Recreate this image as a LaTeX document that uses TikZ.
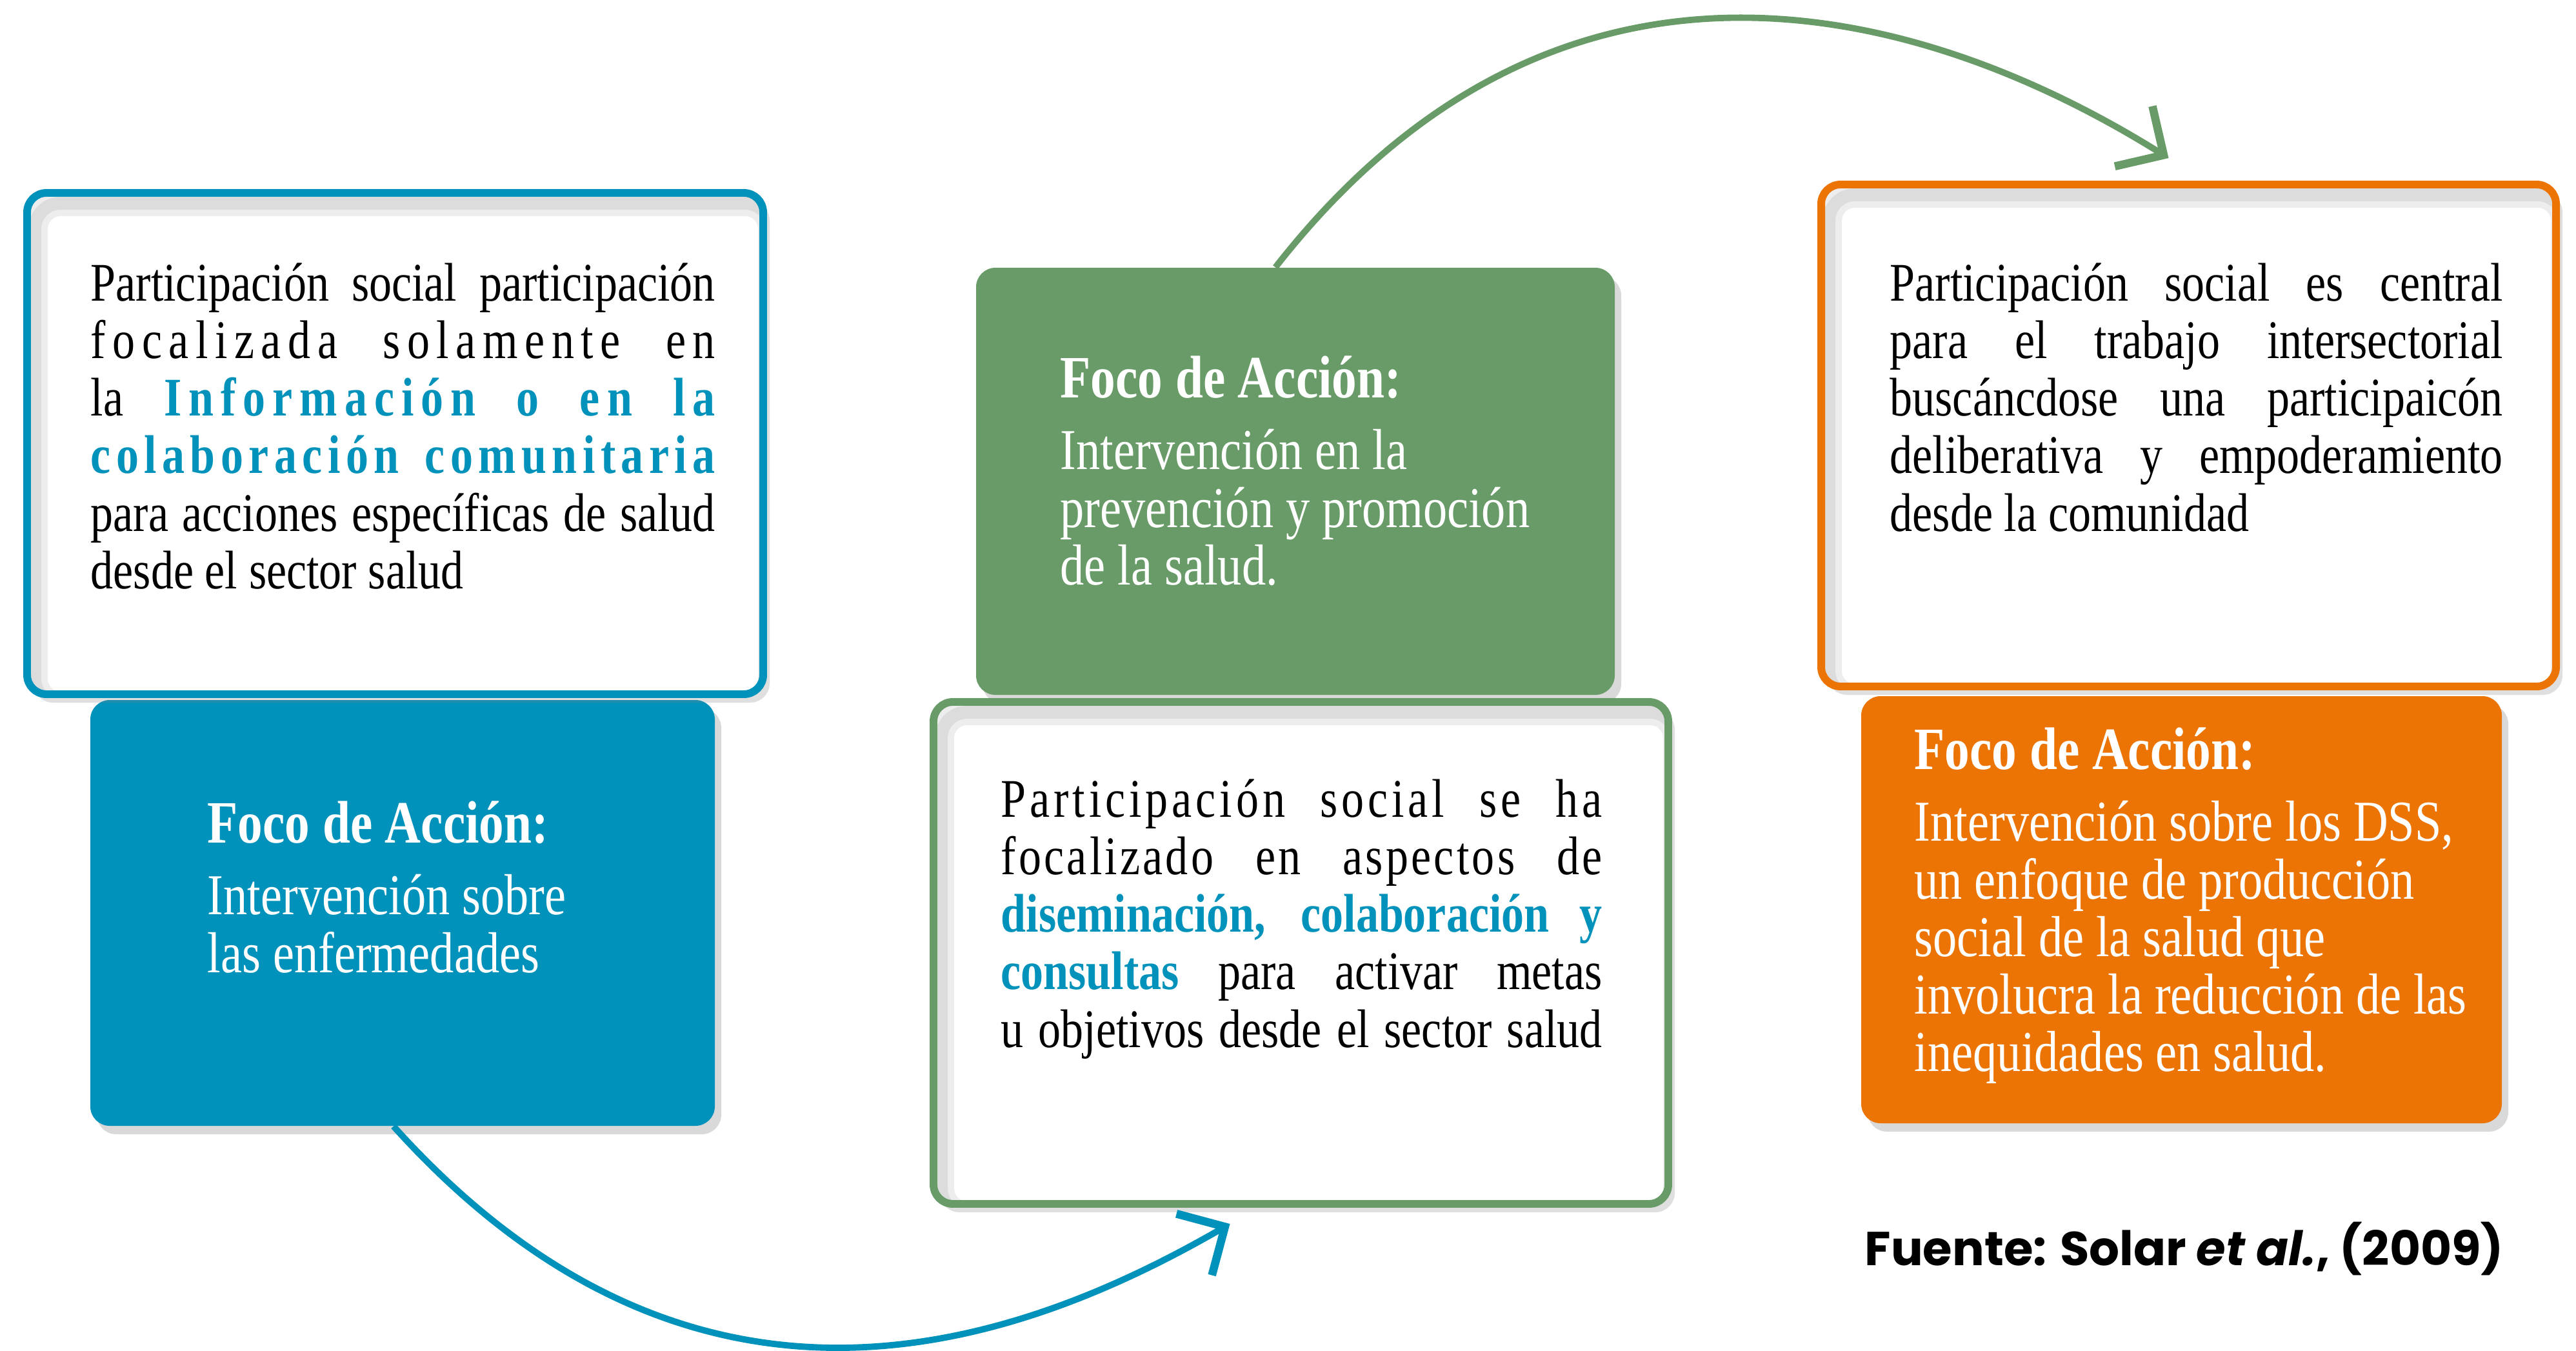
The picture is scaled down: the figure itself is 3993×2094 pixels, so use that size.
\documentclass[tikz,border=0pt]{standalone}
\usepackage{fontspec}
\setmainfont{Liberation Serif}[FakeStretch=0.83]
\newfontfamily\srcfont{Poppins}
\usetikzlibrary{arrows.meta,shadows}
\definecolor{focoblue}{RGB}{0,146,186}
\definecolor{focogreen}{RGB}{104,155,104}
\definecolor{focoorange}{RGB}{236,116,4}
\newcommand{\wsp}{\spaceskip=.21em plus .07em minus .05em\relax}
\tikzset{frame/.style={draw=#1,fill=white,line width=3.4pt,rounded corners=3mm,inner sep=0pt,
  drop shadow={shadow xshift=1mm,shadow yshift=-1.3mm,opacity=.25},
  path picture={\draw[black,opacity=.07,line width=4mm,rounded corners=4mm]
   ([shift={(1.2mm,-1.6mm)}]path picture bounding box.north west) rectangle ([shift={(1.2mm,-1.6mm)}]path picture bounding box.south east);
   \draw[black,opacity=.07,line width=2mm,rounded corners=4mm]
   ([shift={(1.2mm,-1.6mm)}]path picture bounding box.north west) rectangle ([shift={(1.2mm,-1.6mm)}]path picture bounding box.south east);}},
 foco/.style={fill=#1,rounded corners=3mm,inner sep=0pt,
  drop shadow={shadow xshift=1mm,shadow yshift=-1.3mm,opacity=.3}},
 body/.style={anchor=base west,inner sep=0pt,align=left,
  font=\fontsize{24}{25.4}\selectfont,execute at begin node=\wsp},
 focotxt/.style={anchor=base west,inner sep=0pt,align=left,text=white,
  font=\fontsize{25.5}{25.4}\selectfont,execute at begin node=\wsp},
 flow/.style={draw=#1,line width=2.8pt,-{Straight Barb[length=5.5mm,width=11mm,line width=3.6pt]}}}
\newcommand{\jline}[1]{{\spaceskip=.21em plus 1fil minus .07em\relax\makebox[\linewidth][s]{#1}}}
\newcommand{\ls}[2]{{\addfontfeature{LetterSpace=#1}#2}}
\newcommand{\hl}[1]{{\bfseries\color{focoblue}#1}}
\newcommand{\foco}{{\fontsize{26.5}{25.4}\selectfont\bfseries\wsp Foco de Acción:}\\[6.4pt]}

\begin{document}
\begin{tikzpicture}[x=0.1mm,y=-0.1mm]
\useasboundingbox(0,0) rectangle (3993,2094);
% left column
\node[foco=focoblue,minimum width=96.8mm,minimum height=66mm](fa) at(624,1415){};
\node[frame=focoblue,minimum width=114.1mm,minimum height=77.7mm](pa) at(612.5,687.5){};
\node[body,text width=96.8mm](ta) at(140,466){\jline{Participación social participación}\\
 \jline{\ls{12.5}{focalizada solamente en}}\\
 \jline{la \hl{\ls{13}{Información o en la}}}\\
 \jline{\hl{\ls{10}{colaboración comunitaria}}}\\
 \jline{para acciones específicas de salud}\\
 desde el sector salud};
\node[focotxt,text width=85mm](ka) at(321,1306){\foco Intervención sobre\\ las enfermedades};
% middle column
\node[foco=focogreen,minimum width=99mm,minimum height=66.2mm](fb) at(2008,746){};
\node[frame=focogreen,minimum width=113.9mm,minimum height=77.8mm](pb) at(2016.5,1477){};
\node[body,text width=93.2mm](tb) at(1551,1266){\jline{\ls{7}{Participación social se ha}}\\
 \jline{\ls{5}{focalizado en aspectos de}}\\
 \jline{\hl{diseminación, colaboración y}}\\
 \jline{\hl{consultas} para activar metas}\\
 \jline{u objetivos desde el sector salud}};
\node[focotxt,text width=85mm](kb) at(1643,616){\foco Intervención en la\\ prevención y promoción\\ de la salud.};
% right column
\node[frame=focoorange,minimum width=113.9mm,minimum height=77.8mm](pc) at(3392.5,675){};
\node[foco=focoorange,minimum width=99.3mm,minimum height=66.2mm](fc) at(3381.5,1410){};
\node[body,text width=95mm](tc) at(2929,466){\jline{Participación social es central}\\
 \jline{para el trabajo intersectorial}\\
 \jline{buscáncdose una participaicón}\\
 \jline{deliberativa y empoderamiento}\\
 desde la comunidad};
\node[focotxt,text width=91mm](kc) at(2967,1192){\foco Intervención sobre los DSS,\\ un enfoque de producción\\
 social de la salud que\\ involucra la reducción de las\\ inequidades en salud.};
\node[anchor=base west,inner sep=0pt,font=\srcfont\bfseries\fontsize{21}{24}\selectfont](fu) at(2890,1961){Fuente: Solar \textit{et al.}, (2009)};
% arrows
\draw[flow=focoblue]([xshift=-1.4mm]fa.south) to[out=-48,in=-150,out distance=68.8mm,in distance=40mm] ([xshift=-11mm,yshift=-2.5mm]pb.south);
\draw[flow=focogreen]([xshift=-3.1mm]fb.north) to[out=52,in=148,out distance=75mm,in distance=40mm] ([xshift=-3.1mm,yshift=3.5mm]pc.north);
\end{tikzpicture}
\end{document}
